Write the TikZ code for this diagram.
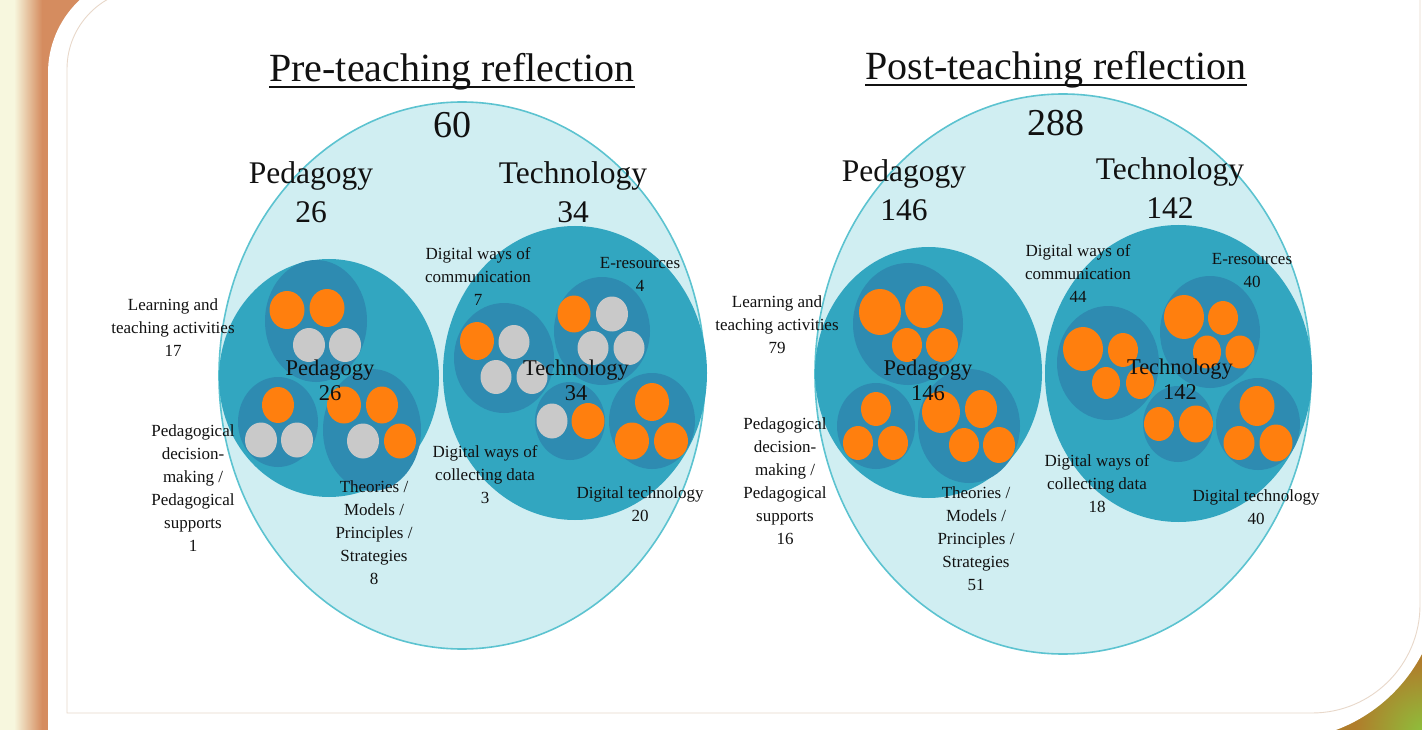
\documentclass[tikz,border=0pt]{standalone}
\usepackage{fontspec}
\setmainfont{Liberation Serif}
\usetikzlibrary{shapes.geometric}
\definecolor{clight}{HTML}{D0EEF2}
\definecolor{cedge}{HTML}{5CC3D0}
\definecolor{cmain}{HTML}{32A6C0}
\definecolor{csub}{HTML}{2E8BB1}
\definecolor{corange}{HTML}{FF7F0E}
\definecolor{cgray}{HTML}{C9C9C9}
\definecolor{ccream}{HTML}{F7F7DE}
\definecolor{cclay}{HTML}{D58C5F}
\definecolor{cbrown}{HTML}{B07D2B}
\definecolor{cgreen}{HTML}{8CC23C}
\definecolor{cframe}{HTML}{E8D8CA}
\definecolor{ctext}{HTML}{111111}

\begin{document}
\begin{tikzpicture}[x=1pt,y=-1pt,
  sz/.style 2 args={minimum width=#1pt,minimum height=#2pt},
  blob/.style={ellipse,inner sep=0pt,outer sep=0pt},
  outerset/.style={blob,fill=clight,draw=cedge,line width=1.6pt},
  maincirc/.style={blob,fill=cmain},
  subcirc/.style={blob,fill=csub},
  od/.style={blob,fill=corange},
  gd/.style={blob,fill=cgray},
  ttl/.style={inner sep=0pt,text=ctext,font=\fontsize{40}{48}\selectfont,anchor=base},
  tot/.style={inner sep=0pt,text=ctext,font=\fontsize{38}{44}\selectfont,anchor=base},
  dom/.style={inner sep=0pt,text=ctext,font=\fontsize{31.5}{38}\selectfont,anchor=base},
  inlab/.style={inner sep=0pt,text=ctext,align=center,font=\fontsize{22.5}{25}\selectfont},
  lab/.style={inner sep=0pt,text=ctext,align=center,font=\fontsize{17}{23}\selectfont},
]
\useasboundingbox (0,0) rectangle (1422,730);

% ---------- slide background ----------
\fill[cclay] (0,0) rectangle (170,730);
\shade[left color=ccream, right color=cclay] (14,0) rectangle (42,730);
\fill[ccream] (0,0) rectangle (14,730);
\fill[cbrown] (1240,540) rectangle (1422,730);
\begin{scope}
  \clip (1240,540) rectangle (1422,730);
  \shade[inner color=cgreen, outer color=cbrown] (1425,733) circle (70);
\end{scope}
\fill[white] (48,740) -- (48,73) arc[start angle=180,end angle=270,radius=100]
  -- (1440,-27) -- (1440,580) arc[start angle=0,end angle=90,radius=160] -- cycle;
\draw[cframe, line width=0.9pt] (1420,-20) -- (1420,605)
  arc[start angle=0,end angle=90,radius=108] -- (67,713) -- (67,69)
  arc[start angle=180,end angle=270,radius=80] -- (200,-11);

% ---------- pre-teaching reflection ----------
\node[outerset, sz={486}{547}] (allL) at (462,375.5) {};
\node[maincirc, sz={220}{238}] (pedL) at (329,378) {};
\node[maincirc, sz={264}{294}] (tecL) at (575,373) {};

\node[subcirc, sz={102}{122}] (pLa) at (316,321) {};
\node[subcirc, sz={80}{90}]   (pLb) at (278,422) {};
\node[subcirc, sz={98}{122}]  (pLc) at (372,430) {};
\node[subcirc, sz={100}{110}] (tLa) at (504,358) {};
\node[subcirc, sz={96}{108}]  (tLb) at (602,331) {};
\node[subcirc, sz={70}{78}]   (tLc) at (570,421) {};
\node[subcirc, sz={86}{96}]   (tLd) at (652,421) {};

% learning and teaching activities
\node[od, sz={35}{38}] (pLa1) at (287,310) {};
\node[od, sz={35}{38}] (pLa2) at (327,308) {};
\node[gd, sz={32}{34}] (pLa3) at (309,345) {};
\node[gd, sz={32}{34}] (pLa4) at (345,345) {};
% pedagogical decision-making
\node[od, sz={32}{36}] (pLb1) at (278,405) {};
\node[gd, sz={32}{35}] (pLb2) at (261,440) {};
\node[gd, sz={32}{35}] (pLb3) at (297,440) {};
% theories / models
\node[od, sz={34}{37}] (pLc1) at (344,405) {};
\node[od, sz={32}{37}] (pLc2) at (382,405) {};
\node[gd, sz={32}{35}] (pLc3) at (363,441) {};
\node[od, sz={32}{35}] (pLc4) at (400,441) {};
% communication
\node[od, sz={34}{38}] (tLa1) at (477,341) {};
\node[gd, sz={31}{34}] (tLa2) at (514,342) {};
\node[gd, sz={31}{34}] (tLa3) at (496,377) {};
\node[gd, sz={31}{34}] (tLa4) at (532,377) {};
% e-resources
\node[od, sz={33}{37}] (tLb1) at (574,314) {};
\node[gd, sz={32}{35}] (tLb2) at (612,314) {};
\node[gd, sz={31}{34}] (tLb3) at (593,348) {};
\node[gd, sz={31}{34}] (tLb4) at (629,348) {};
% collecting data
\node[gd, sz={31}{35}] (tLc1) at (552,421) {};
\node[od, sz={33}{36}] (tLc2) at (588,421) {};
% digital technology
\node[od, sz={34}{38}] (tLd1) at (652,402) {};
\node[od, sz={34}{37}] (tLd2) at (632,441) {};
\node[od, sz={34}{37}] (tLd3) at (671,441) {};

\node[ttl] (ttlL) at (452,82) {Pre-teaching reflection};
\draw[ctext, line width=1.8pt] ([yshift=-5pt]ttlL.base west) -- ([yshift=-5pt]ttlL.base east);
\node[tot] (totL) at (452,138) {60};
\node[dom] (domPL) at (311,184) {Pedagogy};
\node[dom] (numPL) at (311,223) {26};
\node[dom] (domTL) at (573,184) {Technology};
\node[dom] (numTL) at (573,223) {34};
\node[inlab] (inPL) at (330,380) {Pedagogy\\26};
\node[inlab] (inTL) at (576,380) {Technology\\34};

\node[lab] (lLa) at (173,328) {Learning and\\teaching activities\\17};
\node[lab] (lLb) at (193,488.5) {Pedagogical\\decision-\\making /\\Pedagogical\\supports\\1};
\node[lab] (lLc) at (374,532.5) {Theories /\\Models /\\Principles /\\Strategies\\8};
\node[lab] (lLd) at (478,277) {Digital ways of\\communication\\7};
\node[lab] (lLe) at (640,274) {E-resources\\4};
\node[lab] (lLf) at (485,475) {Digital ways of\\collecting data\\3};
\node[lab] (lLg) at (640,504.5) {Digital technology\\20};

% ---------- post-teaching reflection ----------
\node[outerset, sz={496}{560}] (allR) at (1063,374) {};
\node[maincirc, sz={227}{251}] (pedR) at (928.5,372.5) {};
\node[maincirc, sz={267}{297}] (tecR) at (1178.5,373.5) {};

\node[subcirc, sz={110}{122}] (pRa) at (908,324) {};
\node[subcirc, sz={78}{86}]   (pRb) at (876,426) {};
\node[subcirc, sz={102}{114}] (pRc) at (969,426) {};
\node[subcirc, sz={102}{114}] (tRa) at (1108,363) {};
\node[subcirc, sz={100}{112}] (tRb) at (1210,332) {};
\node[subcirc, sz={70}{76}]   (tRc) at (1178,424) {};
\node[subcirc, sz={84}{92}]   (tRd) at (1258,424) {};

\node[od, sz={42}{46}] (pRa1) at (880,312) {};
\node[od, sz={38}{42}] (pRa2) at (924,307) {};
\node[od, sz={30}{34}] (pRa3) at (907,345) {};
\node[od, sz={32}{34}] (pRa4) at (942,345) {};
\node[od, sz={30}{34}] (pRb1) at (876,409) {};
\node[od, sz={30}{34}] (pRb2) at (858,443) {};
\node[od, sz={30}{34}] (pRb3) at (893,443) {};
\node[od, sz={38}{42}] (pRc1) at (941,412) {};
\node[od, sz={32}{38}] (pRc2) at (981,409) {};
\node[od, sz={30}{34}] (pRc3) at (964,445) {};
\node[od, sz={32}{36}] (pRc4) at (999,445) {};

\node[od, sz={40}{44}] (tRa1) at (1083,349) {};
\node[od, sz={30}{34}] (tRa2) at (1123,350) {};
\node[od, sz={28}{32}] (tRa3) at (1106,383) {};
\node[od, sz={28}{32}] (tRa4) at (1140,383) {};
\node[od, sz={40}{44}] (tRb1) at (1184,317) {};
\node[od, sz={30}{34}] (tRb2) at (1223,318) {};
\node[od, sz={28}{33}] (tRb3) at (1207,352) {};
\node[od, sz={29}{33}] (tRb4) at (1240,352) {};
\node[od, sz={30}{34}] (tRc1) at (1159,424) {};
\node[od, sz={34}{37}] (tRc2) at (1196,424) {};
\node[od, sz={35}{40}] (tRd1) at (1257,406) {};
\node[od, sz={31}{34}] (tRd2) at (1239,443) {};
\node[od, sz={33}{37}] (tRd3) at (1276,443) {};

\node[ttl] (ttlR) at (1056,80) {Post-teaching reflection};
\draw[ctext, line width=1.8pt] ([yshift=-5pt]ttlR.base west) -- ([yshift=-5pt]ttlR.base east);
\node[tot] (totR) at (1056,136) {288};
\node[dom] (domPR) at (904,182) {Pedagogy};
\node[dom] (numPR) at (904,221) {146};
\node[dom] (domTR) at (1170,180) {Technology};
\node[dom] (numTR) at (1170,219) {142};
\node[inlab] (inPR) at (928,380) {Pedagogy\\146};
\node[inlab] (inTR) at (1180,379) {Technology\\142};

\node[lab] (lRa) at (777,324.5) {Learning and\\teaching activities\\79};
\node[lab] (lRb) at (785,481) {Pedagogical\\decision-\\making /\\Pedagogical\\supports\\16};
\node[lab] (lRc) at (976,539) {Theories /\\Models /\\Principles /\\Strategies\\51};
\node[lab] (lRd) at (1078,274) {Digital ways of\\communication\\44};
\node[lab] (lRe) at (1252,270.5) {E-resources\\40};
\node[lab] (lRf) at (1097,484) {Digital ways of\\collecting data\\18};
\node[lab] (lRg) at (1256,507) {Digital technology\\40};
\end{tikzpicture}
\end{document}
